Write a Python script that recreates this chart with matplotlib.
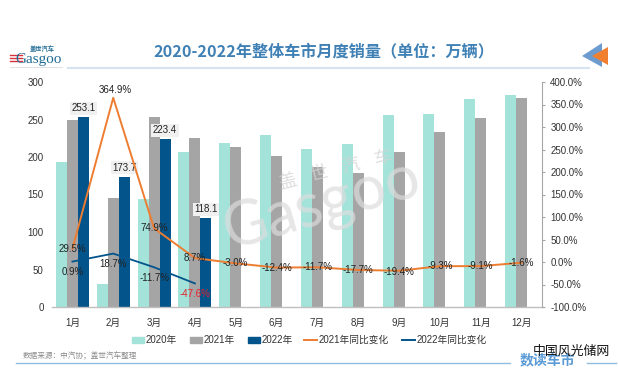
import matplotlib
matplotlib.use('Agg')
import matplotlib.pyplot as plt
from matplotlib.patches import Polygon
import numpy as np

plt.rcParams['font.family'] = ['Liberation Sans', 'Noto Sans CJK SC', 'DejaVu Sans']

months = ['1月', '2月', '3月', '4月', '5月', '6月', '7月', '8月', '9月', '10月', '11月', '12月']
sales_2020 = [193, 31, 144, 207, 219, 230, 211, 218, 256, 257, 277, 283]
sales_2021 = [250, 146, 253, 225, 213, 201, 187, 179, 207, 233, 252, 279]
sales_2022 = [253.1, 173.7, 223.4, 118.1]
yoy_2021 = [29.5, 364.9, 74.9, 8.7, -3.0, -12.4, -11.7, -17.7, -19.4, -9.3, -9.1, -1.6]
yoy_2022 = [0.9, 18.7, -11.7, -47.6]
left_ticks = [0, 50, 100, 150, 200, 250, 300]
right_ticks = [-100, -50, 0, 50, 100, 150, 200, 250, 300, 350, 400]

W, H = 618, 381
TEAL, GRAY, NAVY, ORANGE = '#a3e3da', '#a5a5a5', '#02548b', '#ed7d31'
CJK = ['Noto Sans CJK SC', 'DejaVu Sans']

fig = plt.figure(figsize=(W / 100, H / 100), dpi=100)


def box(x0, y0, x1, y1):
    # pixel box from the top left corner -> figure fractions
    return [x0 / W, 1 - y1 / H, (x1 - x0) / W, (y1 - y0) / H]


def ftext(x, y, s, **kw):
    fig.text(x / W, 1 - y / H, s, va=kw.pop('va', 'center'), **kw)


def fline(x0, x1, y, **kw):
    fig.add_artist(plt.Line2D([x0 / W, x1 / W], [1 - y / H] * 2, **kw))


def ftri(pts, col):
    fig.add_artist(Polygon([(a / W, 1 - b / H) for a, b in pts], transform=fig.transFigure, color=col, lw=0))


ax = fig.add_axes(box(52, 82, 542, 307))
ax.set_xlim(-0.5, 11.5)
ax.set_ylim(0, 300)
ax.patch.set_alpha(0)

x = np.arange(12)
w = 0.27
ax.bar(x - w, sales_2020, w, color=TEAL)
ax.bar(x, sales_2021, w, color=GRAY)
ax.bar(x[:4] + w, sales_2022, w, color=NAVY)

ax.set_xticks(x, months, fontsize=7, color='#333333')
ax.set_yticks(left_ticks)
ax.tick_params(axis='x', length=0, pad=8)
ax.tick_params(axis='y', length=0, pad=6, labelsize=7, labelcolor='#333333')
for s in ['top', 'left', 'right']:
    ax.spines[s].set_visible(False)
ax.spines['bottom'].set_color('#bfbfbf')
ax.spines['bottom'].set_linewidth(1)

ax2 = ax.twinx()
ax2.set_ylim(-100, 400)
ax2.set_yticks(right_ticks, [f'{v:.1f}%' for v in right_ticks])
ax2.tick_params(axis='y', length=2.4, width=0.8, color='#a6a6a6', pad=3.5, labelsize=7, labelcolor='#333333')
for s in ['top', 'left', 'bottom']:
    ax2.spines[s].set_visible(False)
ax2.spines['right'].set_color('#a6a6a6')

# watermark sits under the lines and labels but over the bars
ax2.text(322 / W, 1 - 206 / H, 'Gasgoo', transform=fig.transFigure, fontsize=44, color='#dcdcdc', alpha=0.7,
         rotation=16, ha='center', va='center', rotation_mode='anchor', family='Lato', zorder=2.5)
for i, ch in enumerate('盖世汽车'):
    ax2.text((287 + 32 * i) / W, 1 - (182 - 8 * i) / H, ch, transform=fig.transFigure, fontsize=13,
             color='#d4d4d4', alpha=0.75, rotation=14, ha='center', va='center', family=CJK, zorder=2.5)

ax2.plot(x, yoy_2021, color=ORANGE, lw=1.4, zorder=3)
ax2.plot(x[:4], yoy_2022, color=NAVY, lw=1.3, zorder=3)

# bar labels on a pale box
for i, v in enumerate(sales_2022):
    ax.text(i + w, v + 12, f'{v:.1f}', ha='center', va='center', fontsize=7, color='#222222', zorder=6,
            bbox=dict(fc='#f0f0f0', ec='none', pad=1.2))

# line labels, moved by hand off the points
off_2021 = [0, 17, 0, 0, 0, -2, 0, 0, -2, 0, 0, -1]
for i, v in enumerate(yoy_2021):
    ax2.text(i + (0.05 if i == 1 else 0), v + off_2021[i], f'{v:.1f}%', ha='center', va='center',
             fontsize=7, color='#222222', zorder=6)
for i, v in enumerate(yoy_2022):
    ax2.text(i, v - 24, f'{v:.1f}%', ha='center', va='center',
             fontsize=7, color='#e8202a' if v < -40 else '#222222', zorder=6)

# title and frame
ftext(324, 51, '2020-2022年整体车市月度销量（单位：万辆）', ha='center', fontsize=11.6, fontweight='bold',
      color='#3f80b5', family=CJK)
fline(68, 589, 68, color='#d6e4f1', lw=1.6)
fline(16, 510, 363, color='#8fbde0', lw=1)
fline(587, 616, 363, color='#8fbde0', lw=1)
ftri([(582, 56), (602, 43), (602, 67)], '#6c9bd0')
ftri([(592, 56), (608, 47), (608, 65)], '#f08030')

# logo
ftext(15, 60, 'Gasgoo', fontsize=11, color='#1f6a93', family='Liberation Serif')
ftext(30, 49, '盖世汽车', fontsize=4.5, color='#1f6a93', fontweight='bold', family=CJK)
for yy in [55, 58, 61]:
    fline(10, 22, yy, color='#d9303a', lw=1)
fline(10, 62, 67, color='#dddddd', lw=0.6)

# legend, placed by hand
leg_y = 340
for x0, col, s in [(132, TEAL, '2020年'), (190, GRAY, '2021年'), (248, NAVY, '2022年')]:
    fig.add_artist(plt.Rectangle((x0 / W, 1 - (leg_y + 3) / H), 12 / W, 6 / H, color=col, transform=fig.transFigure))
    ftext(x0 + 14, leg_y, s, fontsize=7, color='#333333')
for x0, col, s in [(304, ORANGE, '2021年同比变化'), (402, NAVY, '2022年同比变化')]:
    fline(x0, x0 + 13, leg_y, color=col, lw=1.4)
    ftext(x0 + 15, leg_y, s, fontsize=7, color='#333333')

ftext(23, 356, '数据来源：中汽协；盖世汽车整理', fontsize=5.5, color='#8c8c8c', family=CJK)
ftext(520, 360, '数读车市', fontsize=10, color='#5b9bd5', fontweight='bold', family=CJK)
ftext(533, 351, '中国风光储网', fontsize=9.3, color='#111111', family=CJK)

fig.savefig('out.png', dpi=100)
